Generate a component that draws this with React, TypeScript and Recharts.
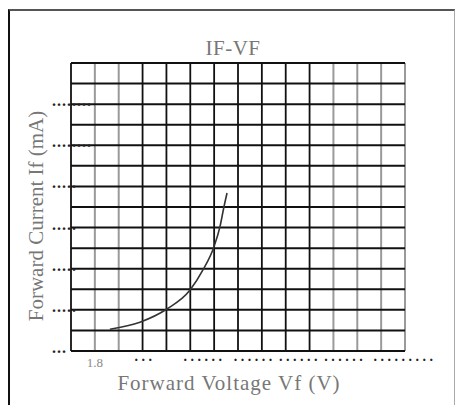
import { LineChart, Line, XAxis, YAxis, CartesianGrid } from 'recharts';

// IF-VF curve
const voltage = [1.863, 1.989, 2.102, 2.199, 2.253, 2.299, 2.324, 2.341, 2.354];
const current = [5.3, 7.0, 10.2, 14.8, 19.7, 25.3, 30.1, 35.0, 38.4];

// grid lines (0.1 V and 5 mA steps); some verticals came out faint in the scan
const darkVoltLines = [1.7, 2.0, 2.1, 2.2, 2.3, 2.4, 2.5, 2.6, 2.7];
const fadedVoltLines = [1.8, 1.9, 2.8, 2.9, 3.0, 3.1];
const currentLines = [0, 5, 10, 15, 20, 25, 30, 35, 40, 45, 50, 55, 60, 65, 70];

// tick labels are mostly dotted placeholders in the original
const voltTicks = [1.8, 2.01, 2.26, 2.47, 2.66, 2.85, 3.1];
const voltTickLabels = ['1.8', '...', '......', '......', '......', '......', '.........'];
const currentTicks = [0, 10, 20, 30, 40, 50, 60];
const currentTickLabels = ['...', '.....', '.....', '.....', '.....', '........', '........'];

const chartData = voltage.map((vf, i) => ({ vf, ifwd: current[i] }));

const SERIF = '"Liberation Serif", "Times New Roman", serif';

const VoltTick = (props: any) => {
  const { x, y, payload } = props;
  const label = voltTickLabels[voltTicks.indexOf(payload.value)] ?? '';
  if (/\d/.test(label)) {
    return (
      <text x={x} y={y + 16} textAnchor='middle' fontSize={13} fill='#8a8a8a' fontFamily={SERIF}>
        {label}
      </text>
    );
  }
  return (
    <text x={x} y={y + 10} textAnchor='middle' fontSize={14} fontWeight='bold' letterSpacing={3.5} fill='#222' fontFamily={SERIF}>
      {label}
    </text>
  );
};

const CurrentTick = (props: any) => {
  const { x, y, payload } = props;
  const label = currentTickLabels[currentTicks.indexOf(payload.value)] ?? '';
  return (
    <text x={x - 19} y={y + 2} textAnchor='start' fontSize={16} fontWeight='bold' letterSpacing={1} fill='#222' fontFamily={SERIF}>
      {label}
    </text>
  );
};

const App = () => {
  return (
    <div style={{ position: 'absolute', left: 0, top: 0, width: 457, height: 405, background: '#fff' }}>
      {/* scanned frame */}
      <div
        style={{
          position: 'absolute',
          left: 8,
          top: 9,
          width: 444,
          height: 394,
          borderLeft: '2px solid #111',
          borderTop: '2px solid #555',
          borderRight: '1px solid #aaa',
        }}
      />
      <div style={{ position: 'absolute', left: 0, top: 0 }}>
        <LineChart width={457} height={405} data={chartData} margin={{ top: 63, right: 52, bottom: 24, left: 31 }}>
          <CartesianGrid vertical={true} horizontal={false} verticalValues={fadedVoltLines} stroke='#9a9a9a' strokeWidth={2} />
          <CartesianGrid vertical={true} horizontal={false} verticalValues={darkVoltLines} stroke='#111' strokeWidth={1.8} />
          <CartesianGrid vertical={false} horizontal={true} horizontalValues={currentLines} stroke='#111' strokeWidth={2} />
          <XAxis
            type='number'
            dataKey='vf'
            domain={[1.7, 3.1]}
            ticks={voltTicks}
            interval={0}
            height={30}
            tickSize={0}
            tickMargin={0}
            tickLine={false}
            axisLine={false}
            tick={<VoltTick />}
          />
          <YAxis
            type='number'
            domain={[0, 70]}
            ticks={currentTicks}
            interval={0}
            width={40}
            tickSize={0}
            tickMargin={0}
            tickLine={false}
            axisLine={false}
            tick={<CurrentTick />}
          />
          <Line type='monotone' dataKey='ifwd' stroke='#333' strokeWidth={1.6} dot={false} isAnimationActive={false} />
        </LineChart>
      </div>
      {/* titles */}
      <svg width={457} height={405} style={{ position: 'absolute', left: 0, top: 0, pointerEvents: 'none' }}>
        <text x={233} y={55} textAnchor='middle' fontSize={21} letterSpacing={0.5} fill='#777' fontFamily={SERIF}>
          IF-VF
        </text>
        <text x={229} y={390} textAnchor='middle' fontSize={21} letterSpacing={1} fill='#777' fontFamily={SERIF}>
          Forward Voltage Vf (V)
        </text>
        <text x={43} y={216} textAnchor='middle' fontSize={21} fill='#777' fontFamily={SERIF} transform='rotate(-90, 43, 216)'>
          Forward Current If (mA)
        </text>
      </svg>
    </div>
  );
};

export default App;
